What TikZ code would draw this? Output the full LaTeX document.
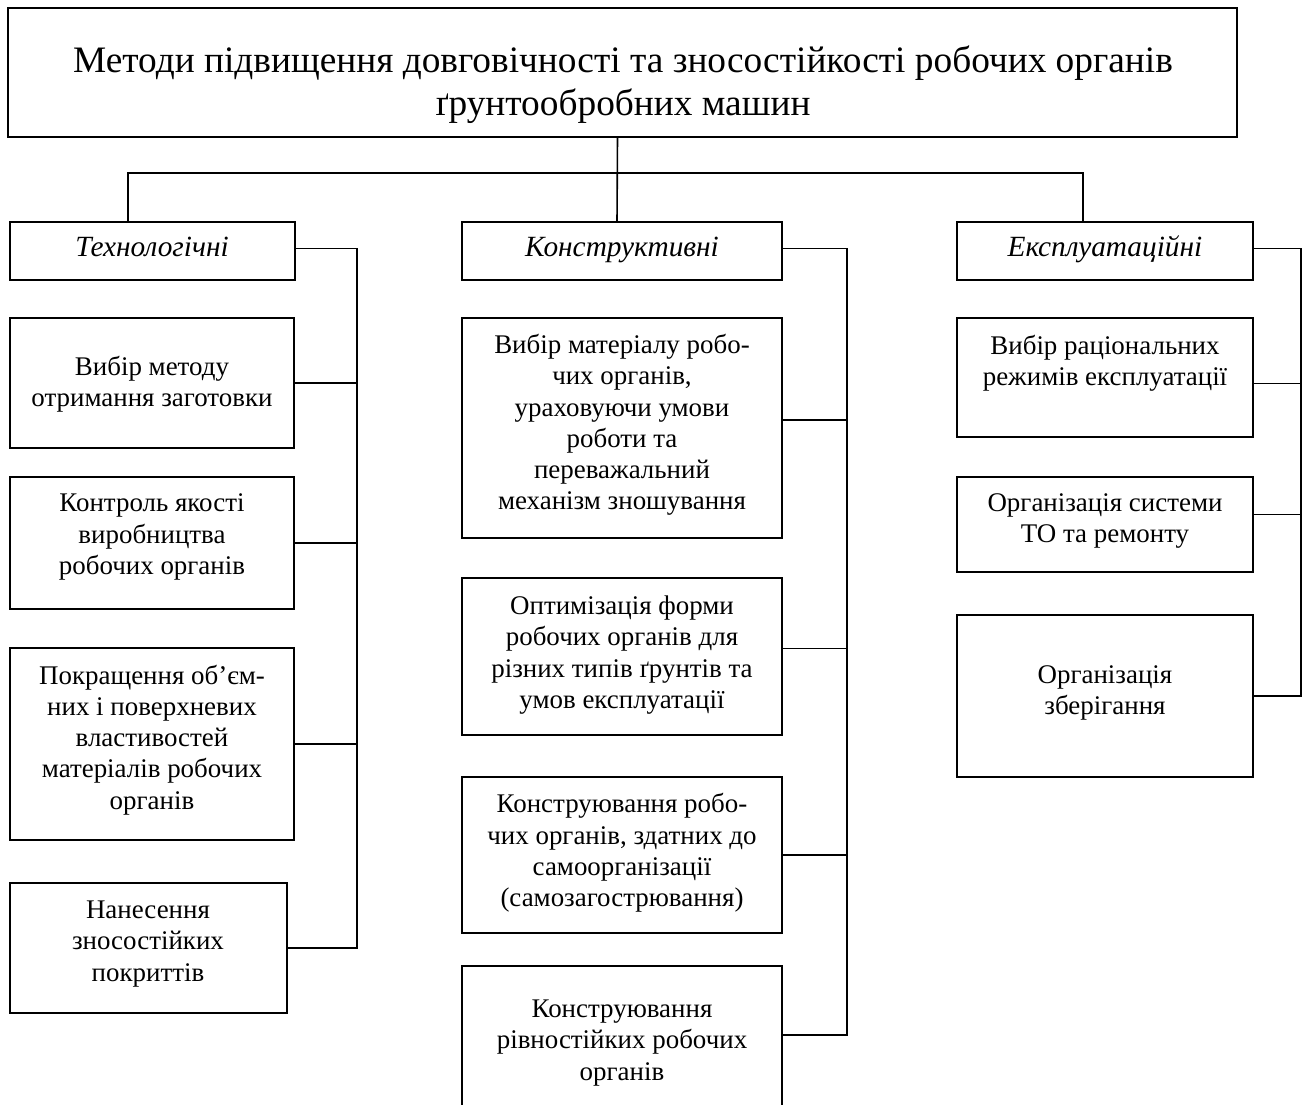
\documentclass[tikz,border=0pt]{standalone}
\usepackage{fontspec}
\setmainfont{Liberation Serif}
\usetikzlibrary{calc}
\tikzset{
  bx/.style={draw=black, line width=1.5pt, rectangle, inner sep=0pt, outer sep=0pt},
  txt/.style={align=center, inner sep=0pt, font=\fontsize{20.2}{23.4}\selectfont},
  cat/.style={inner sep=0pt, anchor=base, font=\fontsize{22}{26}\selectfont\itshape},
  ttl/.style={align=center, inner sep=0pt, font=\fontsize{28}{32.4}\selectfont},
  conn/.style={draw=black, line width=1.2pt}
}
% name, x1, y1, x2, y2 (px)
\newcommand\mkbox[5]{\node[bx, minimum width={(#4-#2)*0.75pt}, minimum height={(#5-#3)*0.75pt}] (#1) at ({(#2+#4)/2},{(#3+#5)/2}) {};}
\begin{document}
\begin{tikzpicture}[x=0.75pt, y=-0.75pt]
\useasboundingbox (0,0) rectangle (1303,1104);
% title
\mkbox{T}{8}{8}{1237}{137}
\node[ttl] (Tt) at (623,85) {Методи підвищення довговічності та зносостійкості робочих органів\\ґрунтообробних машин};
% categories
\mkbox{C1}{10}{222}{295}{280}
\node[cat] (C1t) at (152,256) {Технологічні};
\mkbox{C2}{462}{222}{782}{280}
\node[cat] (C2t) at (622,256) {Конструктивні};
\mkbox{C3}{957}{222}{1253}{280}
\node[cat] (C3t) at (1105,256) {Експлуатаційні};
% technological
\mkbox{A1}{10}{318}{294}{448}
\node[txt] (A1t) at (152,384) {Вибір методу\\отримання заготовки};
\mkbox{A2}{10}{477}{294}{609}
\node[txt] (A2t) at (152,537) {Контроль якості\\виробництва\\робочих органів};
\mkbox{A3}{10}{648}{294}{840}
\node[txt] (A3t) at (152,740) {Покращення об’єм-\\них і поверхневих\\властивостей\\матеріалів робочих\\органів};
\mkbox{A4}{10}{883}{287}{1013}
\node[txt] (A4t) at (148,944) {Нанесення\\зносостійких\\покриттів};
% constructive
\mkbox{B1}{462}{318}{782}{538}
\node[txt] (B1t) at (622,425) {Вибір матеріалу робо-\\чих органів,\\ураховуючи умови\\роботи та\\переважальний\\механізм зношування};
\mkbox{B2}{462}{578}{782}{735}
\node[txt] (B2t) at (622,655) {Оптимізація форми\\робочих органів для\\різних типів ґрунтів та\\умов експлуатації};
\mkbox{B3}{462}{777}{782}{933}
\node[txt] (B3t) at (622,853) {Конструювання робо-\\чих органів, здатних до\\самоорганізації\\(самозагострювання)};
\mkbox{B4}{462}{966}{782}{1110}
\node[txt] (B4t) at (622,1043) {Конструювання\\рівностійких робочих\\органів};
% exploitation
\mkbox{E1}{957}{318}{1253}{437}
\node[txt] (E1t) at (1105,363) {Вибір раціональних\\режимів експлуатації};
\mkbox{E2}{957}{477}{1253}{572}
\node[txt] (E2t) at (1105,521) {Організація системи\\ТО та ремонту};
\mkbox{E3}{957}{615}{1253}{777}
\node[txt] (E3t) at (1105,693) {Організація\\зберігання};
% top connectors
\coordinate (hl) at (128,173);
\coordinate (hr) at (1083,173);
\draw[conn] ([xshift=-3.75pt]T.south) -- ([xshift=-3.75pt]C2.north);
\draw[conn] (hl |- C1.north) -- (hl) -- (hr) -- (hr |- C3.north);
% buses
\coordinate (b1) at (357,0);
\coordinate (b2) at (847,0);
\coordinate (b3) at (1301,0);
\draw[conn] ([yshift=2pt]C1.east) -| (b1 |- A4.east) -- (A4.east);
\draw[conn] (A1.east) -- (A1.east -| b1);
\draw[conn] (A2.east) -- (A2.east -| b1);
\draw[conn] (A3.east) -- (A3.east -| b1);
\draw[conn] ([yshift=2pt]C2.east) -| ($(b2 |- B4.east)+(0,-3)$) -- ($(B4.east)+(0,-3)$);
\draw[conn] ($(B1.east)+(0,-8)$) -- ($(B1.east -| b2)+(0,-8)$);
\draw[conn] ($(B2.east)+(0,-8)$) -- ($(B2.east -| b2)+(0,-8)$);
\draw[conn] (B3.east) -- (B3.east -| b2);
\draw[conn] ([yshift=2pt]C3.east) -| (b3 |- E3.east) -- (E3.east);
\draw[conn] ($(E1.east)+(0,6)$) -- ($(E1.east -| b3)+(0,6)$);
\draw[conn] ($(E2.east)+(0,-10)$) -- ($(E2.east -| b3)+(0,-10)$);
\end{tikzpicture}
\end{document}
